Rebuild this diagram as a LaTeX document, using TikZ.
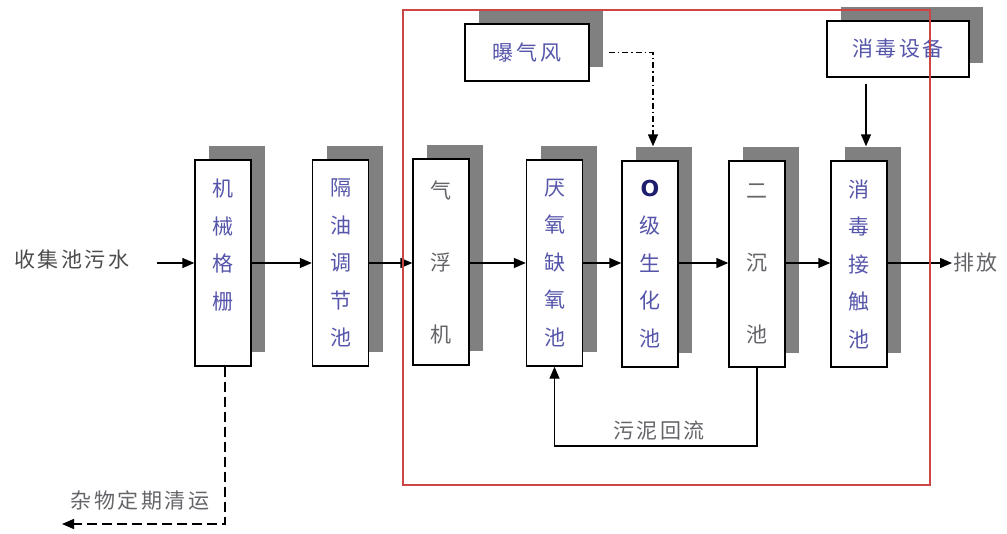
\documentclass[tikz,border=0pt]{standalone}
\usepackage{fontspec}
\setmainfont{Noto Sans CJK SC}
\newfontfamily\osym{DejaVu Sans}
\usetikzlibrary{arrows.meta,shadows}
\definecolor{boxtxt}{RGB}{85,85,170}
\definecolor{graytxt}{RGB}{100,100,105}
\definecolor{navy}{RGB}{30,30,110}
\definecolor{shad}{RGB}{128,128,128}
\definecolor{redframe}{RGB}{205,70,70}
\begin{document}
\begin{tikzpicture}[x=1pt,y=-1pt,
  tank/.style={draw=black, line width=1.4pt, fill=white, minimum width=56pt,
    minimum height=206pt, inner sep=0pt, align=center, text=boxtxt,
    font=\fontsize{21}{37.5}\selectfont,
    general shadow={fill=shad, shadow xshift=14pt, shadow yshift=14pt}},
  widetank/.style={tank, font=\fontsize{21}{72}\selectfont},
  topbox/.style={draw=black, line width=1.4pt, fill=white, inner sep=0pt,
    text=boxtxt, font=\fontsize{21}{25}\selectfont\addfontfeatures{LetterSpace=12},
    general shadow={fill=shad, shadow xshift=14pt, shadow yshift=14pt}},
  lbl/.style={text=graytxt, inner sep=1pt,
    font=\fontsize{21}{25}\selectfont\addfontfeatures{LetterSpace=12}},
  flow/.style={draw=black, line width=1.4pt, -{Triangle[length=12pt,width=10pt]}},
  dashflow/.style={flow, dash pattern=on 10pt off 5pt},
  ddflow/.style={flow, dash pattern=on 6pt off 3pt on 1.5pt off 3pt}
]
\useasboundingbox (0,0) rectangle (1007,533);

% process tanks
\node[tank] (A) at (223,263) {机\\械\\格\\栅\\\mbox{}};
\node[tank] (B) at (340.5,263) {隔\\油\\调\\节\\池};
\node[widetank, text=graytxt] (C) at (441,262) {气\\浮\\机};
\node[tank] (D) at (554.5,263) {厌\\氧\\缺\\氧\\池};
\node[tank] (E) at (650,264) {{\osym\bfseries\color{navy}\fontsize{22}{22}\selectfont O}\\级\\生\\化\\池};
\node[widetank, text=graytxt] (F) at (757,264) {二\\沉\\池};
\node[tank] (G) at (859,264) {消\\毒\\接\\触\\池};

% top equipment
\node[topbox, minimum width=124pt, minimum height=57pt] (H) at (527,52.5) {曝气风};
\node[topbox, minimum width=142pt, minimum height=56pt] (I) at (898,49) {消毒设备};

% labels
\node[lbl, text=black!70] (in) at (72,259) {收集池污水};
\coordinate (inS) at (157,263);
\node[lbl, anchor=west] (out) at (952,263) {排放};
\node[lbl] (junkT) at (140,500) {杂物定期清运};
\coordinate (junk) at (62,524);
\node[lbl] (retT) at (659,431) {污泥回流};
\coordinate (ret) at (757,446);

% main flow
\draw[flow] (inS) -- (A.west |- inS);
\draw[flow] (A.east |- inS) -- (B.west |- inS);
\draw[flow] (B.east |- inS) -- (C.west |- inS);
\draw[flow] (C.east |- inS) -- (D.west |- inS);
\draw[flow] (D.east |- inS) -- (E.west |- inS);
\draw[flow] (E.east |- inS) -- (F.west |- inS);
\draw[flow] (F.east |- inS) -- (G.west |- inS);
\draw[flow] (G.east |- inS) -- (out.west);

% auxiliary flows
\draw[ddflow] ([xshift=19pt]H.east) -| ([xshift=3pt,yshift=14pt]E.north);
\draw[flow] ([xshift=-32pt,yshift=-6pt]I.south) -- ([xshift=7pt,yshift=14pt]G.north);
\draw[dashflow] ([xshift=2pt]A.south) |- (junk);
\draw[flow] (F.south) -- (ret) -| (D.south);

% treatment frame
\draw[redframe, line width=1.2pt] (403,10) rectangle (930,485);
\end{tikzpicture}
\end{document}
